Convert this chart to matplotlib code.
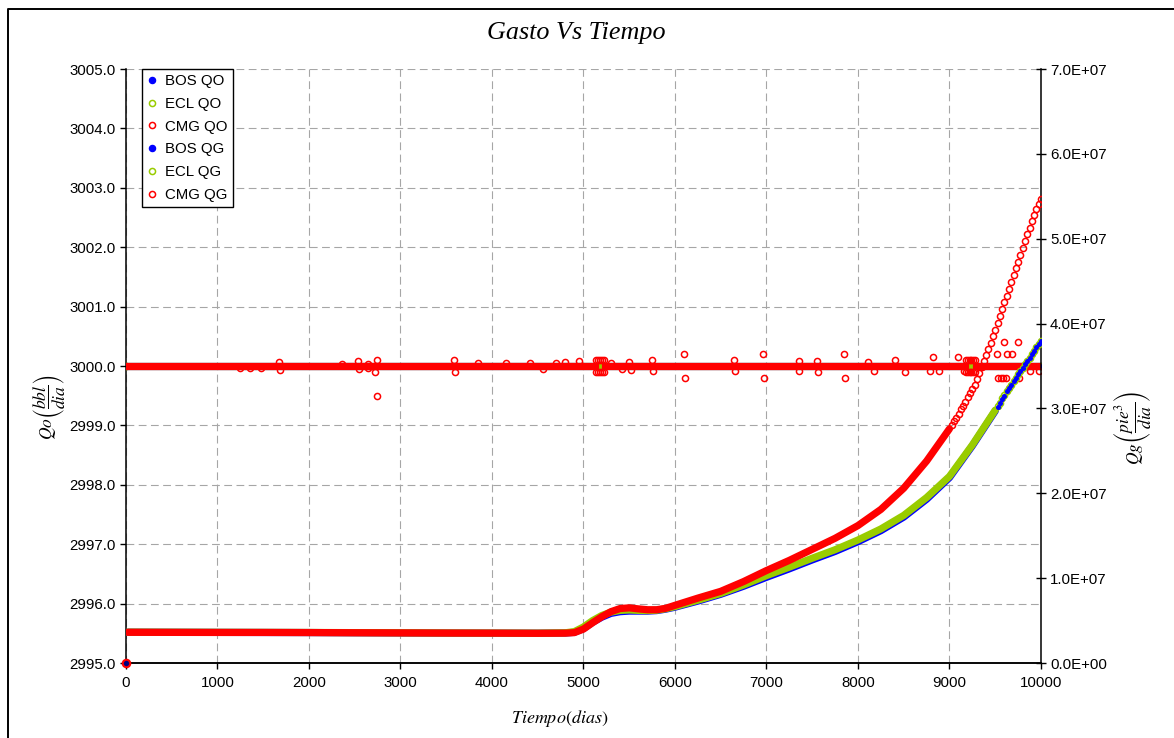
import matplotlib.pyplot as plt
from matplotlib.lines import Line2D
from matplotlib.ticker import FuncFormatter, MultipleLocator

plt.rcParams['font.family'] = ['Liberation Sans', 'DejaVu Sans']
plt.rcParams['mathtext.fontset'] = 'stix'

AZUL = '#0000FF'
VERDE = '#99CC00'
ROJO = '#FF0000'

# gasto de aceite (bbl/dia): constante en los tres simuladores
dias_qo = [0, 10000]
qo_bos = [3000.0, 3000.0]
qo_ecl = [3000.0, 3000.0]
qo_cmg = 3000.0
tramos_cmg_qo = [(0, 5130), (5230, 9170), (9290, 10000)]

# puntos de CMG QO que se salen de 3000
atip_dias = [1250, 1360, 1480, 1670, 1680, 2360, 2540, 2550, 2640, 2650, 2720, 2740, 2745,
             3590, 3600, 3850, 4150, 4420, 4560, 4700, 4800, 4950,
             5140, 5160, 5180, 5200, 5220, 5140, 5160, 5180, 5200, 5220,
             5300, 5420, 5500, 5520, 5750, 5760, 6100, 6110, 6650, 6660, 6960, 6970,
             7350, 7360, 7550, 7560, 7850, 7860, 8110, 8170, 8400, 8510, 8790, 8820, 8890,
             9090, 9160, 9180, 9200, 9220, 9240, 9260, 9280, 9180, 9200, 9220, 9240, 9260, 9280,
             9520, 9600, 9625, 9680, 9530, 9560, 9590, 9620, 9750, 9760, 9880, 9980]
atip_qo = [2999.97, 2999.97, 2999.97, 3000.06, 2999.94, 3000.03, 3000.08, 2999.95, 3000.04, 2999.96, 2999.90, 3000.10, 2999.50,
           3000.10, 2999.90, 3000.05, 3000.05, 3000.05, 2999.95, 3000.05, 3000.06, 3000.08,
           3000.10, 3000.10, 3000.10, 3000.10, 3000.10, 2999.90, 2999.90, 2999.90, 2999.90, 2999.90,
           3000.05, 2999.95, 3000.06, 2999.93, 3000.10, 2999.92, 3000.20, 2999.80, 3000.10, 2999.92, 3000.20, 2999.80,
           3000.08, 2999.92, 3000.08, 2999.90, 3000.20, 2999.80, 3000.07, 2999.91, 3000.10, 2999.90, 2999.91, 3000.16, 2999.91,
           3000.16, 2999.91, 3000.10, 3000.10, 3000.10, 3000.10, 3000.10, 3000.10, 2999.90, 2999.90, 2999.90, 2999.90, 2999.90, 2999.90,
           3000.20, 3000.40, 3000.20, 3000.20, 2999.80, 2999.80, 2999.80, 2999.80, 3000.40, 2999.80, 2999.91, 2999.91]

# gasto de gas (millones de pie3/dia)
dias_qg = [0, 20, 500, 1000, 1500, 2000, 2500, 3000, 3500, 4000, 4500, 4800, 4900,
           5000, 5100, 5200, 5300, 5400, 5500, 5600, 5700, 5800, 5900, 6000,
           6250, 6500, 6750, 7000, 7250, 7500, 7750, 8000, 8250, 8500, 8750, 9000, 9250, 9500]
qg_cmg = [0.0, 3.62, 3.61, 3.60, 3.60, 3.59, 3.57, 3.55, 3.53, 3.52, 3.50, 3.52, 3.58,
          4.00, 4.75, 5.45, 6.05, 6.42, 6.50, 6.38, 6.28, 6.28, 6.45, 6.80,
          7.65, 8.45, 9.60, 10.9, 12.1, 13.4, 14.7, 16.2, 18.1, 20.6, 23.8, 27.6, 32.3, 39.3]
qg_ecl = [0.0, 3.64, 3.63, 3.62, 3.61, 3.60, 3.58, 3.56, 3.54, 3.53, 3.52, 3.56, 3.70,
          4.25, 5.00, 5.60, 6.00, 6.20, 6.25, 6.20, 6.18, 6.22, 6.40, 6.65,
          7.40, 8.20, 9.20, 10.3, 11.3, 12.35, 13.35, 14.5, 15.8, 17.4, 19.5, 22.0, 25.7, 29.8]
qg_bos = [0.0, 3.63, 3.62, 3.61, 3.60, 3.59, 3.57, 3.55, 3.53, 3.52, 3.51, 3.54, 3.62,
          4.05, 4.80, 5.40, 5.85, 6.05, 6.12, 6.12, 6.12, 6.18, 6.35, 6.58,
          7.30, 8.10, 9.05, 10.1, 11.1, 12.15, 13.15, 14.3, 15.6, 17.2, 19.3, 21.85, 25.6, 29.7]

# ultimos pasos de tiempo, donde los puntos ya se separan
dias_fin_cmg = [9025, 9050, 9075, 9100, 9125, 9150, 9175, 9200, 9225, 9250,
                9275, 9300, 9325, 9350, 9375, 9400, 9425, 9450, 9475, 9500,
                9525, 9550, 9575, 9600, 9625, 9650, 9675, 9700, 9725, 9750,
                9775, 9800, 9825, 9850, 9875, 9900, 9925, 9950, 9975, 10000]
qg_fin_cmg = [28.0, 28.5, 28.9, 29.4, 29.9, 30.3, 30.8, 31.3, 31.8, 32.3,
              32.8, 33.5, 34.2, 34.9, 35.6, 36.3, 37.0, 37.7, 38.5, 39.3,
              40.1, 40.9, 41.7, 42.5, 43.3, 44.1, 44.9, 45.7, 46.5, 47.3,
              48.1, 48.9, 49.7, 50.5, 51.3, 52.1, 52.8, 53.5, 54.1, 54.7]
dias_fin = [9525, 9550, 9575, 9600, 9625, 9650, 9675, 9700, 9725, 9750,
            9775, 9800, 9825, 9850, 9875, 9900, 9925, 9950, 9975, 10000]
qg_fin_ecl = [30.3, 30.7, 31.2, 31.6, 32.0, 32.4, 32.8, 33.2, 33.6, 34.0,
              34.4, 34.8, 35.2, 35.6, 36.0, 36.4, 36.8, 37.2, 37.6, 38.0]
qg_fin_bos = [30.2, 30.6, 31.1, 31.5, 32.0, 32.4, 32.8, 33.2, 33.6, 34.0,
              34.4, 34.8, 35.2, 35.6, 36.0, 36.4, 36.8, 37.2, 37.6, 38.0]
corte_cmg = 9000

lw_banda = 5.2
ms = 4.4
mew = 1.1

fig = plt.figure(figsize=(11.74, 7.38), dpi=100)
ax = fig.add_axes([0.1073, 0.1016, 0.7794, 0.8049])
ax2 = ax.twinx()

# --- QO (eje izquierdo) ---
ax.plot(dias_qo, qo_bos, color=AZUL, lw=lw_banda, marker='o', ms=ms, mfc=AZUL, mec=AZUL, zorder=2)
ax.plot(dias_qo, qo_ecl, color=VERDE, lw=lw_banda, marker='o', ms=ms, mfc='none', mec=VERDE, mew=mew, zorder=3)
for ini, fin in tramos_cmg_qo:
    ax.plot([ini, fin], [qo_cmg, qo_cmg], color=ROJO, lw=lw_banda, zorder=4)
ax.plot(atip_dias, atip_qo, ls='none', marker='o', ms=ms, mfc='none', mec=ROJO, mew=mew, zorder=5)

# --- QG (eje derecho) ---
ax2.plot(dias_qg[1:], qg_bos[1:], color=AZUL, lw=lw_banda, solid_capstyle='round', zorder=2)
ax2.plot(dias_qg[1:], qg_ecl[1:], color=VERDE, lw=lw_banda, solid_capstyle='round', zorder=3)
n_cmg = len([d for d in dias_qg if d <= corte_cmg])
ax2.plot(dias_qg[1:n_cmg], qg_cmg[1:n_cmg], color=ROJO, lw=lw_banda, solid_capstyle='round', zorder=4)

ax2.plot(dias_fin, qg_fin_ecl, ls='none', marker='o', ms=ms, mfc='none', mec=VERDE, mew=mew, zorder=3)
ax2.plot(dias_fin, qg_fin_bos, ls='none', marker='o', ms=2.6, mfc=AZUL, mec=AZUL, zorder=3.5)
ax2.plot(dias_fin_cmg, qg_fin_cmg, ls='none', marker='o', ms=ms, mfc='none', mec=ROJO, mew=mew, zorder=4)

# primer paso de tiempo (gasto cero)
ax2.plot(dias_qg[0], qg_bos[0], marker='o', ms=ms, color='#000080', zorder=6, clip_on=False)
ax2.plot(dias_qg[0], qg_cmg[0], marker='o', ms=ms + 1, mfc='none', mec=ROJO, mew=mew + 0.4, zorder=7, clip_on=False)

# --- ejes ---
ax.set_xlim(0, 10000)
ax.set_ylim(2995.0, 3005.0)
ax2.set_ylim(0, 70)
ax.xaxis.set_major_locator(MultipleLocator(1000))
ax.yaxis.set_major_locator(MultipleLocator(1.0))
ax2.yaxis.set_major_locator(MultipleLocator(10))
ax.yaxis.set_major_formatter(FuncFormatter(lambda v, p: f'{v:.1f}'))
ax2.yaxis.set_major_formatter(FuncFormatter(lambda v, p: f'{v * 1e6:.1E}'))

ax.set_axisbelow(True)
ax.grid(True, color='#a6a6a6', lw=0.8, ls=(0, (7, 4)))

for a in (ax, ax2):
    a.spines['top'].set_visible(False)
    for s in a.spines.values():
        s.set_linewidth(1.1)
        s.set_color('black')
ax.spines['right'].set_visible(False)
ax2.spines['left'].set_visible(False)

ax.tick_params(axis='both', direction='out', length=4, width=1, labelsize=10.8, pad=3.5)
ax.tick_params(axis='x', pad=5)
ax2.tick_params(axis='y', direction='inout', length=7, width=1, labelsize=10.8, pad=3)

ax.set_xlabel(r'$Tiempo\left(dias\right)$', fontsize=13)
ax.xaxis.set_label_coords(0.474, -0.075)
ax.set_ylabel(r'$Qo\left(\dfrac{bbl}{dia}\right)$', fontsize=12.5)
ax.yaxis.set_label_coords(-0.064, 0.431)
ax2.set_ylabel(r'$Qg\left(\dfrac{pie^3}{dia}\right)$', fontsize=12.5, rotation=90)
ax2.yaxis.set_label_coords(1.078, 0.396)

fig.text(576 / 1174, 1 - 33 / 738, 'Gasto Vs Tiempo', ha='center', va='center',
         family='Liberation Serif', style='italic', fontsize=18.8)

# leyenda con solo los marcadores
manejadores = [
    Line2D([], [], ls='none', marker='o', ms=ms, mfc=AZUL, mec=AZUL),
    Line2D([], [], ls='none', marker='o', ms=ms, mfc='none', mec=VERDE, mew=mew),
    Line2D([], [], ls='none', marker='o', ms=ms, mfc='none', mec=ROJO, mew=mew),
    Line2D([], [], ls='none', marker='o', ms=ms, mfc=AZUL, mec=AZUL),
    Line2D([], [], ls='none', marker='o', ms=ms, mfc='none', mec=VERDE, mew=mew),
    Line2D([], [], ls='none', marker='o', ms=ms, mfc='none', mec=ROJO, mew=mew),
]
etiquetas = ['BOS QO', 'ECL QO', 'CMG QO', 'BOS QG', 'ECL QG', 'CMG QG']
leg = ax2.legend(manejadores, etiquetas, loc='upper left', bbox_to_anchor=(0.0172, 1.0),
                 fontsize=10.8, frameon=True, fancybox=False, framealpha=1,
                 edgecolor='black', handlelength=0.7, handletextpad=0.5,
                 labelspacing=0.58, borderpad=0.35, borderaxespad=0)
leg.get_frame().set_linewidth(1.0)
leg.set_zorder(10)

# marco del area del grafico
fig.add_artist(Line2D([7.5 / 1174, 7.5 / 1174, 1.0], [0.0, 1 - 8.5 / 738, 1 - 8.5 / 738],
                      transform=fig.transFigure, color='black', lw=1.4))

fig.savefig('out.png', dpi=100)
